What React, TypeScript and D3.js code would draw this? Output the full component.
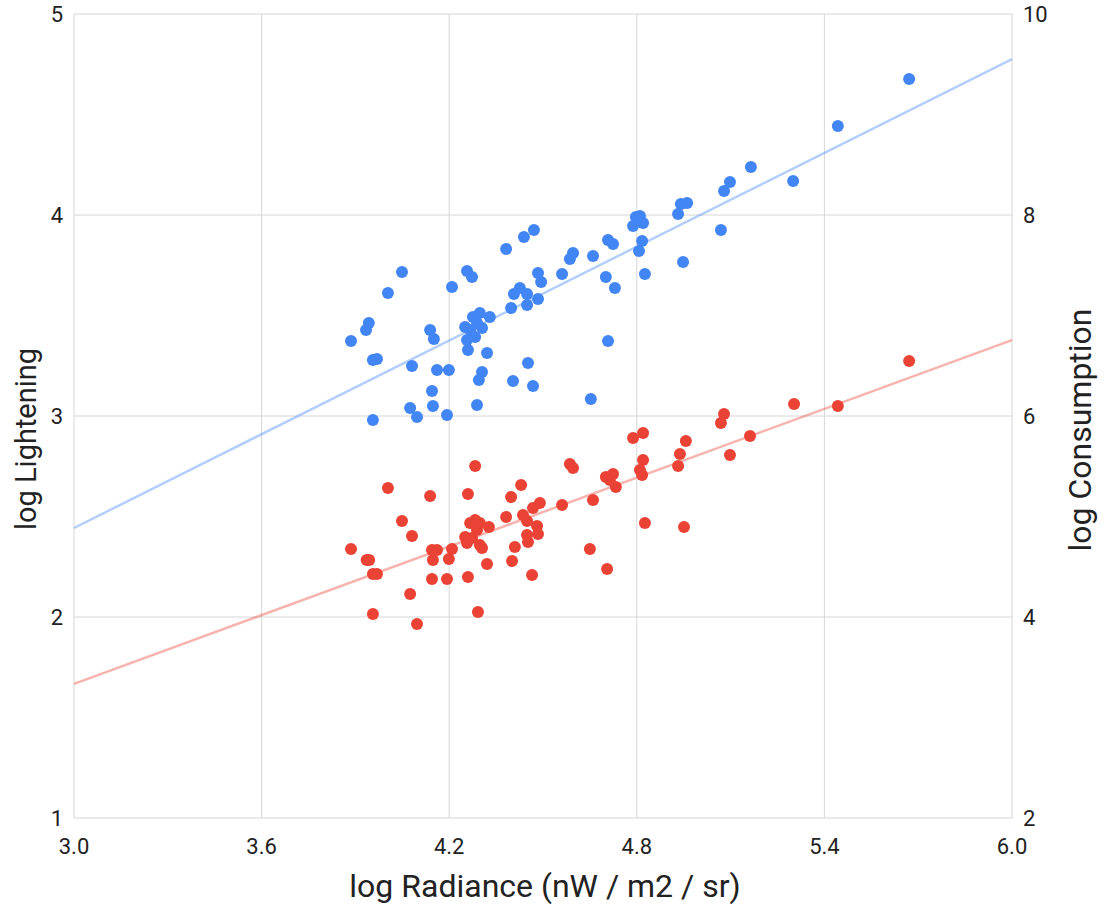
import React from "react";
import * as d3 from "d3";

// blue series: log Lightening (left axis)
const lightRadiance = [
  5.671, 5.443, 5.165, 5.300, 5.098, 5.079, 4.961, 4.941, 4.932, 4.810,
  4.797, 4.820, 4.788, 5.069, 4.817, 4.807, 4.948, 4.826, 4.708, 4.724,
  4.596, 4.586, 4.660, 4.471, 4.439, 4.382, 4.561, 4.701, 4.730, 4.257,
  4.273, 4.484, 4.494, 4.209, 4.426, 4.407, 4.449, 4.484, 4.398, 4.449,
  4.330, 4.298, 4.276, 4.251, 4.289, 4.305, 4.267, 4.283, 4.257, 4.260,
  4.321, 4.708, 4.452, 4.199, 4.161, 4.305, 4.295, 4.404, 4.468, 4.653,
  4.049, 4.004, 3.943, 3.934, 3.886, 4.139, 4.151, 3.956, 3.969, 4.081,
  4.145, 4.075, 4.097, 4.148, 4.193, 4.289, 3.956,
];
const lightening = [
  4.677, 4.443, 4.239, 4.169, 4.164, 4.119, 4.060, 4.055, 4.005, 3.995,
  3.990, 3.960, 3.945, 3.925, 3.871, 3.821, 3.766, 3.706, 3.876, 3.856,
  3.811, 3.781, 3.796, 3.925, 3.891, 3.831, 3.706, 3.692, 3.637, 3.721,
  3.692, 3.711, 3.667, 3.642, 3.637, 3.607, 3.607, 3.582, 3.537, 3.552,
  3.493, 3.512, 3.493, 3.443, 3.463, 3.438, 3.428, 3.393, 3.378, 3.328,
  3.313, 3.373, 3.264, 3.229, 3.229, 3.219, 3.179, 3.174, 3.149, 3.085,
  3.716, 3.612, 3.463, 3.428, 3.373, 3.428, 3.383, 3.279, 3.284, 3.249,
  3.124, 3.040, 2.995, 3.050, 3.005, 3.055, 2.980,
];

// red series: log Consumption (right axis)
const consRadiance = [
  5.671, 5.443, 5.303, 5.079, 5.069, 5.162, 5.098, 4.957, 4.938, 4.932,
  4.788, 4.820, 4.820, 4.810, 4.817, 4.586, 4.596, 4.701, 4.724, 4.714,
  4.733, 4.430, 4.398, 4.490, 4.468, 4.561, 4.660, 4.382, 4.436, 4.449,
  4.327, 4.481, 4.484, 4.449, 4.452, 4.410, 4.321, 4.401, 4.650, 4.826,
  4.951, 4.465, 4.705, 4.283, 4.004, 4.139, 4.260, 4.049, 4.081, 4.283,
  4.267, 4.298, 4.289, 4.251, 4.273, 4.257, 4.298, 4.305, 3.886, 3.936,
  3.944, 3.956, 3.969, 4.145, 4.161, 4.148, 4.209, 4.199, 4.145, 4.193,
  4.260, 4.075, 3.956, 4.292, 4.097,
];
const consumption = [
  6.547, 6.100, 6.119, 6.020, 5.930, 5.801, 5.612, 5.751, 5.622, 5.502,
  5.781, 5.831, 5.562, 5.463, 5.413, 5.522, 5.483, 5.393, 5.423, 5.363,
  5.294, 5.313, 5.194, 5.134, 5.085, 5.114, 5.164, 4.995, 5.015, 4.955,
  4.896, 4.905, 4.826, 4.816, 4.746, 4.697, 4.527, 4.557, 4.677, 4.935,
  4.896, 4.418, 4.478, 5.502, 5.284, 5.204, 5.224, 4.955, 4.806, 4.965,
  4.935, 4.935, 4.866, 4.796, 4.786, 4.736, 4.716, 4.687, 4.677, 4.567,
  4.567, 4.428, 4.428, 4.667, 4.667, 4.567, 4.677, 4.577, 4.378, 4.378,
  4.398, 4.229, 4.030, 4.050, 3.930,
];

const xTicks = [3.0, 3.6, 4.2, 4.8, 5.4, 6.0];
const leftTicks = [1, 2, 3, 4, 5];
const rightTicks = [2, 4, 6, 8, 10];

const W = 1108;
const H = 909;
const left = 74, right = 1012, top = 14, bottom = 818;
const BLUE = "#4285F4";
const RED = "#EA4335";
const FONT = "Roboto, 'Noto Sans', sans-serif";

// least squares fit, same as the sheet's linear trendline
function fit(xs: number[], ys: number[]) {
  const mx = d3.mean(xs)!;
  const my = d3.mean(ys)!;
  let num = 0, den = 0;
  xs.forEach((x, i) => {
    num += (x - mx) * (ys[i] - my);
    den += (x - mx) * (x - mx);
  });
  const slope = num / den;
  return (x: number) => my + slope * (x - mx);
}

export default function App() {
  const x = d3.scaleLinear().domain([3, 6]).range([left, right]);
  const yL = d3.scaleLinear().domain([1, 5]).range([bottom, top]);
  const yR = d3.scaleLinear().domain([2, 10]).range([bottom, top]);

  const blueFit = fit(lightRadiance, lightening);
  const redFit = fit(consRadiance, consumption);
  const line = d3.line<number[]>().x(d => d[0]).y(d => d[1]);
  const blueLine = line(x.domain().map(v => [x(v), yL(blueFit(v))]));
  const redLine = line(x.domain().map(v => [x(v), yR(redFit(v))]));

  return (
    <svg
      width={W}
      height={H}
      style={{ position: "absolute", left: 0, top: 0, background: "#fff" }}
      fontFamily={FONT}
    >
      {/* grid */}
      <g stroke="#d6d6d6" strokeWidth={1}>
        {xTicks.map(t => (
          <line key={"gx" + t} x1={x(t)} x2={x(t)} y1={top} y2={bottom} />
        ))}
        {leftTicks.map(t => (
          <line key={"gy" + t} x1={left} x2={right} y1={yL(t)} y2={yL(t)} />
        ))}
      </g>

      {/* tick labels */}
      <g fontSize={22} fill="#222">
        {xTicks.map(t => (
          <text key={"tx" + t} x={x(t)} y={854} textAnchor="middle">
            {t.toFixed(1)}
          </text>
        ))}
        {leftTicks.map(t => (
          <text key={"tl" + t} x={63} y={yL(t)} dy="0.35em" textAnchor="end">
            {t}
          </text>
        ))}
        {rightTicks.map(t => (
          <text key={"tr" + t} x={1023} y={yR(t)} dy="0.35em" textAnchor="start">
            {t}
          </text>
        ))}
      </g>

      {/* trendlines */}
      <path d={blueLine!} stroke={BLUE} strokeOpacity={0.4} strokeWidth={2.5} fill="none" />
      <path d={redLine!} stroke={RED} strokeOpacity={0.4} strokeWidth={2.5} fill="none" />

      {/* points */}
      <g fill={BLUE}>
        {lightRadiance.map((v, i) => (
          <circle key={"b" + i} cx={x(v)} cy={yL(lightening[i])} r={6} />
        ))}
      </g>
      <g fill={RED}>
        {consRadiance.map((v, i) => (
          <circle key={"r" + i} cx={x(v)} cy={yR(consumption[i])} r={6} />
        ))}
      </g>

      {/* axis titles */}
      <text x={545} y={897} fontSize={32} textAnchor="middle" fill="#222">
        log Radiance (nW / m2 / sr)
      </text>
      <text
        transform="translate(36,439) rotate(-90)"
        fontSize={29}
        textAnchor="middle"
        fill="#222"
      >
        log Lightening
      </text>
      <text
        transform="translate(1091,430) rotate(-90)"
        fontSize={32}
        textAnchor="middle"
        fill="#222"
      >
        log Consumption
      </text>
    </svg>
  );
}
